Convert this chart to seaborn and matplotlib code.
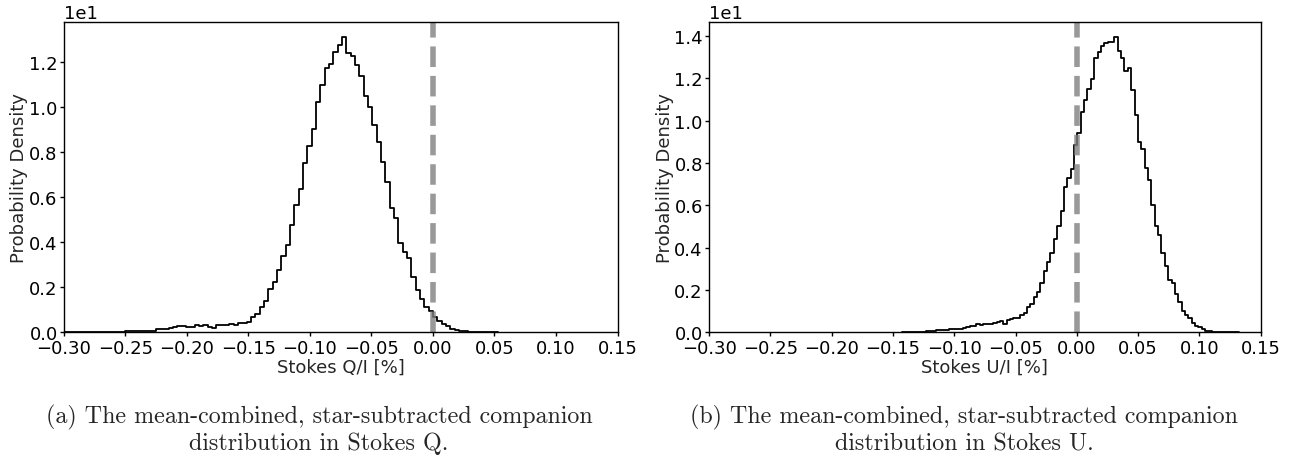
import numpy as np
import pandas as pd
import matplotlib
matplotlib.use("Agg")
import matplotlib.pyplot as plt
import seaborn as sns

# ---------------- data ----------------
# Stokes Q/I histogram: 100 equal bins between q_lo and q_hi, density values
q_lo, q_hi = -0.2993, 0.0529
q_density = [
    0.00, 0.00, 0.01, 0.00, 0.01, 0.01, 0.00, 0.01, 0.01, 0.01,
    0.01, 0.02, 0.03, 0.02, 0.04, 0.04, 0.05, 0.06, 0.07, 0.08,
    0.08, 0.16, 0.14, 0.16, 0.20, 0.22, 0.26, 0.28, 0.22, 0.23,
    0.32, 0.29, 0.31, 0.24, 0.20, 0.32, 0.32, 0.33, 0.38, 0.34,
    0.41, 0.42, 0.47, 0.67, 0.82, 1.12, 1.37, 1.93, 2.23, 2.75,
    3.37, 3.86, 4.75, 5.64, 6.38, 7.52, 8.27, 9.04, 10.23, 10.97,
    11.76, 11.93, 12.45, 12.78, 13.12, 12.41, 12.30, 11.86, 11.39, 10.50,
    10.01, 9.22, 8.45, 7.56, 6.67, 5.53, 5.07, 3.98, 3.56, 3.30,
    2.48, 1.86, 1.46, 1.12, 0.94, 0.67, 0.50, 0.38, 0.27, 0.16,
    0.11, 0.05, 0.05, 0.02, 0.02, 0.01, 0.01, 0.01, 0.00, 0.01,
]

# Stokes U/I histogram
u_lo, u_hi = -0.1423, 0.1322
u_density = [
    0.01, 0.01, 0.01, 0.02, 0.02, 0.03, 0.03, 0.04, 0.06, 0.08,
    0.10, 0.11, 0.12, 0.13, 0.15, 0.16, 0.17, 0.16, 0.20, 0.25,
    0.30, 0.28, 0.40, 0.36, 0.38, 0.41, 0.41, 0.44, 0.50, 0.55,
    0.39, 0.60, 0.63, 0.66, 0.68, 0.82, 0.90, 1.18, 1.34, 1.66,
    1.92, 2.32, 2.92, 3.31, 3.74, 4.41, 5.04, 5.75, 6.85, 7.28,
    7.72, 8.86, 9.43, 10.40, 10.98, 11.50, 11.98, 12.95, 13.24, 13.55,
    13.66, 13.70, 13.74, 13.95, 13.31, 12.95, 12.37, 12.48, 11.46, 10.27,
    8.98, 8.67, 7.75, 7.18, 6.02, 5.01, 4.60, 3.74, 3.15, 2.48,
    2.32, 1.80, 1.45, 1.02, 0.82, 0.66, 0.44, 0.28, 0.24, 0.16,
    0.08, 0.05, 0.03, 0.03, 0.02, 0.02, 0.01, 0.01, 0.01, 0.01,
]

x_ticks = [-0.30, -0.25, -0.20, -0.15, -0.10, -0.05, 0.00, 0.05, 0.10, 0.15]
x_labels = ["Stokes Q/I [%]", "Stokes U/I [%]"]
y_label = "Probability Density"
caption_lines = [
    ("(a) The mean-combined, star-subtracted companion",
     "distribution in Stokes Q."),
    ("(b) The mean-combined, star-subtracted companion",
     "distribution in Stokes U."),
]

# ---------------- style ----------------
sns.set_style("ticks", {"axes.edgecolor": "black",
                        "xtick.color": "black", "ytick.color": "black"})
plt.rcParams["font.family"] = ["DejaVu Sans"]
plt.rcParams["axes.linewidth"] = 1.0

fig = plt.figure(figsize=(12.97, 4.60), dpi=100)
ax_q = fig.add_axes([0.0493, 0.2754, 0.4268, 0.6739])
ax_u = fig.add_axes([0.5467, 0.2754, 0.4253, 0.6739])

panels = [
    (ax_q, q_lo, q_hi, q_density, x_labels[0]),
    (ax_u, u_lo, u_hi, u_density, x_labels[1]),
]

for ax, lo, hi, dens, xl in panels:
    n = len(dens)
    width = (hi - lo) / n
    df = pd.DataFrame({
        "value": [lo + (i + 0.5) * width for i in range(n)],
        "density": dens,
    })
    sns.histplot(data=df, x="value", weights="density", bins=n,
                 binrange=(lo, hi), element="step", fill=False,
                 color="black", linewidth=1.3, ax=ax)
    ax.axvline(0.0, color="gray", alpha=0.8, linestyle="--", linewidth=4)
    ax.set_xlim(-0.30, 0.15)
    ax.set_xticks(x_ticks)
    ax.ticklabel_format(axis="y", style="sci", scilimits=(0, 0))
    ax.set_xlabel(xl, fontsize=13, labelpad=1)
    ax.set_ylabel(y_label, fontsize=13, labelpad=0.5)
    ax.tick_params(axis="x", labelsize=13, length=3, width=1, pad=1.5)
    ax.tick_params(axis="y", labelsize=13, length=3, width=1, pad=1.5)
    ax.yaxis.get_offset_text().set_fontsize(13)

centers_x = [0.2460, 0.7433]
for cx, (l1, l2) in zip(centers_x, caption_lines):
    fig.text(cx, 0.0798, l1, ha="center", va="baseline",
             fontsize=17.3, family="cmr10")
    fig.text(cx, 0.0217, l2, ha="center", va="baseline",
             fontsize=17.3, family="cmr10")

fig.savefig("out.png", dpi=100)
